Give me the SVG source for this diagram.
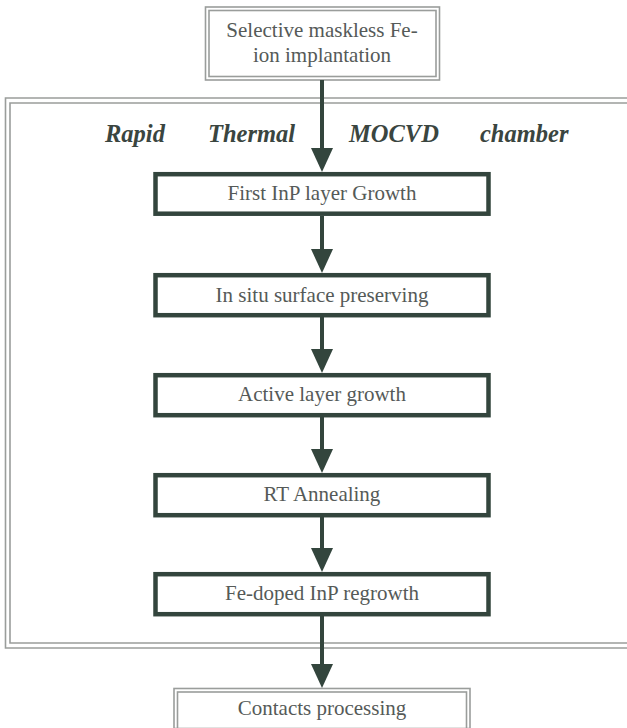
<svg xmlns="http://www.w3.org/2000/svg" width="627" height="728" viewBox="0 0 627 728">
  <style>
    .step { fill: #ffffff; stroke: #33453d; stroke-width: 4.5; }
    .frame { fill: none; stroke: #9a9d9b; stroke-width: 1.6; }
    .label { font-family: "Liberation Serif", "Times New Roman", serif; font-size: 21px; fill: #555a58; text-anchor: middle; }
    .title { font-family: "Liberation Serif", "Times New Roman", serif; font-size: 24.5px; font-weight: bold; font-style: italic; fill: #3a4540; }
    .flow { stroke: #33453d; stroke-width: 4; fill: none; }
    .head { fill: #33453d; }
  </style>
  <defs>
    <!-- arrowhead with tip at (0,0) -->
    <polygon id="arrowhead" points="-11,-24 11,-24 0,0"/>
  </defs>

  <rect width="627" height="728" fill="#ffffff"/>

  <!-- reactor chamber enclosure (double line, open past the right edge) -->
  <g id="chamber">
    <path class="frame" d="M640,98 H5.5 V648 H640"/>
    <path class="frame" d="M640,103 H10 V643 H640"/>
    <text class="title" x="105" y="142">Rapid</text>
    <text class="title" x="208" y="142">Thermal</text>
    <text class="title" x="349" y="142">MOCVD</text>
    <text class="title" x="480" y="142">chamber</text>
  </g>

  <g id="implantation">
    <rect class="frame" x="205.5" y="7" width="234" height="73"/>
    <rect class="frame" x="209" y="10.5" width="227" height="66"/>
    <text class="label" x="322" y="37" font-size="22.5">Selective maskless Fe-</text>
    <text class="label" x="322" y="62" font-size="22.5">ion implantation</text>
  </g>

  <g id="first-inp">
    <rect class="step" x="155.5" y="174.2" width="333" height="39.5"/>
    <text class="label" x="322" y="200">First InP layer Growth</text>
  </g>

  <g id="in-situ">
    <rect class="step" x="155.5" y="275.2" width="333" height="40"/>
    <text class="label" x="322" y="302">In situ surface preserving</text>
  </g>

  <g id="active-layer">
    <rect class="step" x="155.5" y="375.2" width="333" height="40"/>
    <text class="label" x="322" y="401">Active layer growth</text>
  </g>

  <g id="rt-annealing">
    <rect class="step" x="155.5" y="475.2" width="333" height="40"/>
    <text class="label" x="322" y="501">RT Annealing</text>
  </g>

  <g id="fe-regrowth">
    <rect class="step" x="155.5" y="574.2" width="333" height="40"/>
    <text class="label" x="322" y="600">Fe-doped InP regrowth</text>
  </g>

  <g id="contacts">
    <rect class="frame" x="174" y="688.5" width="296" height="40"/>
    <rect class="frame" x="177.5" y="692" width="289" height="40"/>
    <text class="label" x="322" y="715" font-size="21.5">Contacts processing</text>
  </g>

  <g id="connectors">
    <line class="flow" x1="322" y1="80" x2="322" y2="150"/>
    <use href="#arrowhead" class="head" x="322" y="172"/>
    <line class="flow" x1="322" y1="216" x2="322" y2="250"/>
    <use href="#arrowhead" class="head" x="322" y="273"/>
    <line class="flow" x1="322" y1="317" x2="322" y2="350"/>
    <use href="#arrowhead" class="head" x="322" y="373"/>
    <line class="flow" x1="322" y1="417" x2="322" y2="450"/>
    <use href="#arrowhead" class="head" x="322" y="473"/>
    <line class="flow" x1="322" y1="517" x2="322" y2="550"/>
    <use href="#arrowhead" class="head" x="322" y="572"/>
    <line class="flow" x1="322" y1="616" x2="322" y2="666"/>
    <use href="#arrowhead" class="head" x="322" y="688"/>
  </g>
</svg>
